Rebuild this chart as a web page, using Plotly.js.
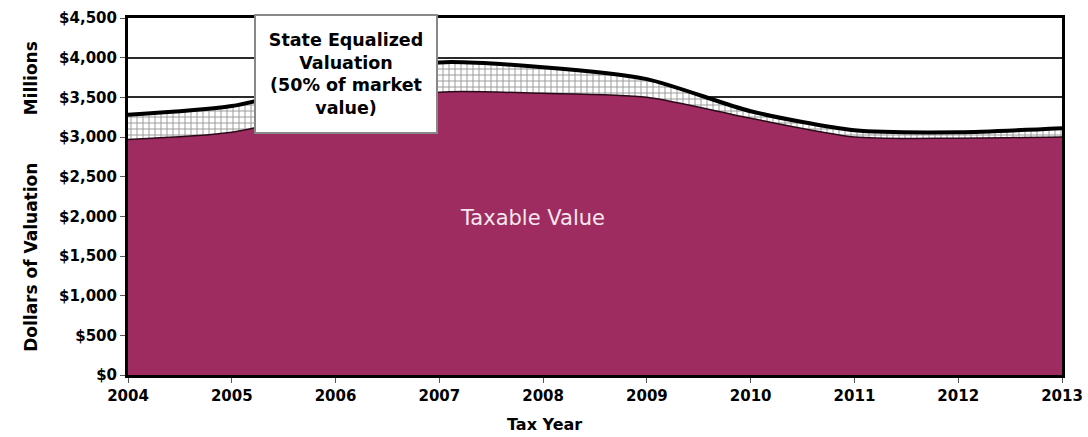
<!DOCTYPE html>
<html>
<head>
<meta charset="utf-8">
<script src="https://cdn.plot.ly/plotly-3.0.1.min.js"></script>
<style>
html,body{margin:0;padding:0;background:#fff;}
#chart{width:1088px;height:437px;}
</style>
</head>
<body>
<div id="chart"></div>
<script>
// Data (millions of dollars)
var years = [2004, 2005, 2006, 2007, 2008, 2009, 2010, 2011, 2012, 2013];
var taxableValue = [2970, 3060, 3350, 3565, 3550, 3500, 3235, 3000, 2985, 3000];
var stateEqualized = [3280, 3390, 3700, 3940, 3880, 3730, 3325, 3085, 3060, 3110];
var yTickVals = [0, 500, 1000, 1500, 2000, 2500, 3000, 3500, 4000, 4500];
var yTickText = ['$0', '$500', '$1,000', '$1,500', '$2,000', '$2,500', '$3,000', '$3,500', '$4,000', '$4,500'];

var heavy = '"DejaVu Sans", "Liberation Sans", Arial, sans-serif';
var tickFont = {family: heavy, size: 15, color: '#000', weight: 'bold'};

var traces = [
  {
    x: years, y: taxableValue, type: 'scatter', mode: 'lines', name: 'Taxable Value',
    line: {color: '#2a0a18', width: 1.5, shape: 'spline', smoothing: 0.7},
    fill: 'tozeroy', fillcolor: '#9e2c60', hoverinfo: 'x+y'
  },
  {
    x: years, y: stateEqualized, type: 'scatter', mode: 'lines', name: 'State Equalized Valuation',
    line: {color: '#000', width: 4, shape: 'spline', smoothing: 0.7},
    fill: 'tonexty', fillcolor: '#ffffff',
    fillpattern: {shape: '+', fgcolor: '#9a9a9a', bgcolor: '#ffffff', size: 6, solidity: 0.3},
    hoverinfo: 'x+y'
  }
];

var layout = {
  width: 1088, height: 437,
  margin: {l: 128, r: 26, t: 18, b: 62},
  paper_bgcolor: '#fff', plot_bgcolor: '#fff',
  showlegend: false,
  xaxis: {
    range: [2004, 2013], tickvals: years, ticktext: years.map(String),
    showgrid: false, zeroline: false,
    showline: true, mirror: true, linecolor: '#000', linewidth: 3,
    ticks: 'outside', ticklen: 5, tickcolor: '#555', tickwidth: 1,
    tickfont: tickFont
  },
  yaxis: {
    range: [0, 4500], tickvals: yTickVals, ticktext: yTickText,
    showgrid: true, gridcolor: '#2a2a2a', gridwidth: 2,
    zeroline: false,
    showline: true, mirror: true, linecolor: '#000', linewidth: 3,
    ticks: 'outside', ticklen: 5, tickcolor: '#555', tickwidth: 1,
    tickfont: tickFont,
    title: {text: 'Dollars of Valuation        Millions', font: {family: heavy, size: 17, color: '#000', weight: 'bold'}, standoff: 18}
  },
  annotations: [
    {
      xref: 'paper', yref: 'paper', x: 0.446, y: -0.14, xanchor: 'center', yanchor: 'middle',
      text: 'Tax Year', showarrow: false,
      font: {family: heavy, size: 16, color: '#000', weight: 'bold'}
    },
    {
      xref: 'x', yref: 'paper', x: 2006.1, y: 1.01, xanchor: 'center', yanchor: 'top',
      text: 'State Equalized<br>Valuation<br>(50% of market<br>value)', showarrow: false,
      align: 'center',
      bgcolor: '#fff', bordercolor: '#888', borderwidth: 2, borderpad: 2,
      width: 176, height: 112,
      font: {family: heavy, size: 17.5, color: '#000', weight: 'bold'}
    },
    {
      xref: 'x', yref: 'y', x: 2007.9, y: 1980, xanchor: 'center', yanchor: 'middle',
      text: 'Taxable Value', showarrow: false,
      font: {family: '"DejaVu Sans", sans-serif', size: 21, color: '#f6e6ee'}
    }
  ]
};

Plotly.newPlot('chart', traces, layout, {displayModeBar: false, staticPlot: true});
</script>
</body>
</html>
